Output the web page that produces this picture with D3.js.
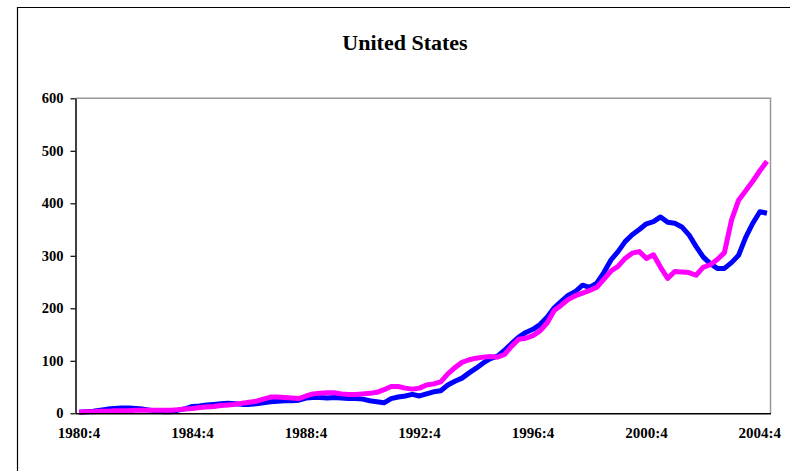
<!DOCTYPE html>
<html>
<head>
<meta charset="utf-8">
<script src="https://cdn.jsdelivr.net/npm/d3@7/dist/d3.min.js"></script>
<style>
  body { margin: 0; background: #fff; }
  svg { display: block; font-family: "Liberation Serif", "Times New Roman", serif; font-weight: bold; }
</style>
</head>
<body>
<svg id="chart"></svg>
<script>
// quarterly categories 1980:4 .. 2005:1
const quarters = [];
for (let y = 1980, q = 4; quarters.length < 98; ) {
    quarters.push(y + ":" + q);
    q++;
    if (q > 4) { q = 1; y++; }
}
const xTickLabels = ["1980:4", "1984:4", "1988:4", "1992:4", "1996:4", "2000:4", "2004:4"];
const yTicks = [0, 100, 200, 300, 400, 500, 600];

const blueSeries = [
    2, 3, 4, 6, 8, 9, 10, 10, 9, 8, 6, 4, 3, 3, 6, 9, 13, 14, 16, 17,
    18, 19, 18, 17, 17, 18, 20, 22, 23, 24, 24, 25, 29, 30, 30, 29, 30, 29, 28, 28,
    27, 24, 22, 20, 28, 31, 33, 36, 33, 37, 41, 43, 54, 61, 67, 77, 86, 96, 104, 109,
    120, 133, 145, 154, 160, 169, 183, 201, 213, 225, 232, 244, 240, 248, 268, 292, 308, 327, 340, 350,
    361, 365, 374, 364, 362, 355, 340, 318, 298, 285, 276, 276, 287, 301, 335, 362, 384, 381
];
const magentaSeries = [
    2, 3, 3, 4, 4, 5, 5, 5, 6, 6, 6, 6, 6, 6, 7, 8, 9, 11, 12, 13,
    15, 16, 17, 19, 21, 23, 27, 31, 31, 30, 29, 28, 33, 37, 38, 39, 39, 37, 36, 36,
    37, 38, 40, 45, 51, 51, 48, 46, 48, 54, 56, 60, 75, 87, 97, 102, 105, 107, 108, 107,
    112, 128, 141, 143, 148, 157, 172, 196, 206, 217, 224, 229, 234, 240, 255, 271, 280, 295, 305, 308,
    295, 302, 278, 257, 270, 269, 268, 263, 278, 283, 293, 306, 368, 406, 424, 442, 462, 480
];

const width = 790;
const height = 471;
const plot = { left: 75.5, right: 770.5, top: 98.3, bottom: 413.3 };

const svg = d3.select("#chart")
    .attr("width", width)
    .attr("height", height);

// outer chart frame (runs off the right and bottom)
svg.append("path")
    .attr("d", `M17.5,${height + 5}V7.5H${width + 5}`)
    .attr("fill", "none")
    .attr("stroke", "#000")
    .attr("stroke-width", 1.2);

svg.append("text")
    .attr("x", 405)
    .attr("y", 50)
    .attr("text-anchor", "middle")
    .attr("font-size", 22)
    .text("United States");

const x = d3.scaleBand()
    .domain(quarters)
    .range([plot.left, plot.right]);

const y = d3.scaleLinear()
    .domain([0, 600])
    .range([plot.bottom, plot.top]);

const cx = d => x(d) + x.bandwidth() / 2;

// plot frame top/right in grey
svg.append("path")
    .attr("d", `M${plot.left},${plot.top}H${plot.right}V${plot.bottom}`)
    .attr("fill", "none")
    .attr("stroke", "#999")
    .attr("stroke-width", 1.5);

const line = d3.line()
    .x((d, i) => cx(quarters[i]))
    .y(d => y(d));

svg.append("path")
    .datum(blueSeries)
    .attr("d", line)
    .attr("fill", "none")
    .attr("stroke", "#0000ff")
    .attr("stroke-width", 5)
    .attr("stroke-linejoin", "round");

svg.append("path")
    .datum(magentaSeries)
    .attr("d", line)
    .attr("fill", "none")
    .attr("stroke", "#ff00ff")
    .attr("stroke-width", 5)
    .attr("stroke-linejoin", "round");

// y axis
const yAxis = svg.append("g")
    .attr("transform", `translate(${plot.left},0)`)
    .call(d3.axisLeft(y).tickValues(yTicks).tickSize(5).tickSizeOuter(0).tickPadding(7));
yAxis.select(".domain").attr("stroke", "#000").attr("stroke-width", 1.5);
yAxis.selectAll(".tick line").attr("stroke", "#000").attr("stroke-width", 1.2);
yAxis.selectAll("text")
    .attr("font-family", "Liberation Serif, Times New Roman, serif")
    .attr("font-weight", "bold")
    .attr("font-size", 14.5)
    .attr("fill", "#000");

// x axis
const xAxis = svg.append("g")
    .attr("transform", `translate(0,${plot.bottom})`)
    .call(d3.axisBottom(x).tickValues(xTickLabels).tickSize(0).tickSizeOuter(0).tickPadding(14));
xAxis.select(".domain").attr("stroke", "#000").attr("stroke-width", 1.5);
xAxis.selectAll("text")
    .attr("font-family", "Liberation Serif, Times New Roman, serif")
    .attr("font-weight", "bold")
    .attr("font-size", 15)
    .attr("fill", "#000");
</script>
</body>
</html>
